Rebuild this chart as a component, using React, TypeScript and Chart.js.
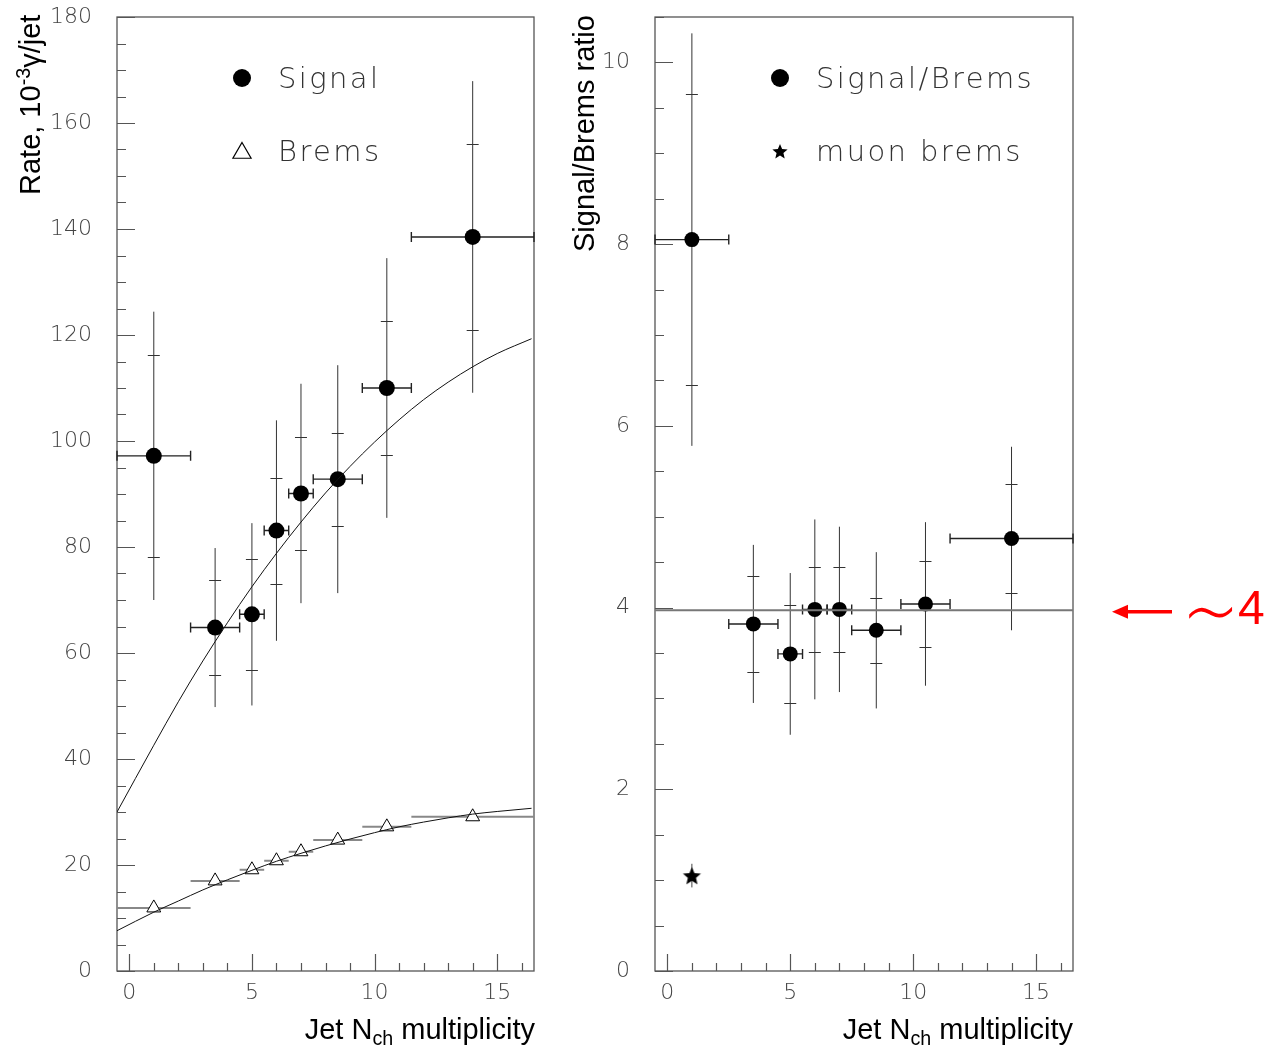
import React, { useEffect, useRef } from "react";
import { Chart, registerables } from "chart.js";

Chart.register(...registerables);

// ---------------- data ----------------
const binCenters = [1, 3.5, 5, 6, 7, 8.5, 10.5, 14];
const binLow = [-0.5, 2.5, 4.5, 5.5, 6.5, 7.5, 9.5, 11.5];
const binHigh = [2.5, 4.5, 5.5, 6.5, 7.5, 9.5, 11.5, 16.5];

const signalRate = [97.2, 64.8, 67.3, 83.1, 90.1, 92.8, 110.0, 138.5];
const signalStatErr = [19.0, 9.0, 10.5, 10.0, 10.7, 8.8, 12.7, 17.5];
const signalTotErr = [27.2, 15.0, 17.2, 20.8, 20.7, 21.5, 24.5, 29.4];

const bremsRate = [11.9, 17.0, 19.1, 20.8, 22.5, 24.7, 27.2, 29.1];

const fitX = [-0.5, 1, 2, 3, 4, 5, 6, 7, 8, 9, 10, 11, 12, 13, 14, 15, 16.4];
const signalFit = [30.0, 42.6, 50.8, 58.5, 65.7, 72.5, 78.8, 84.7, 90.2, 95.2, 99.8, 104.0, 107.8, 111.1, 114.0, 116.5, 119.3];
const bremsFit = [7.6, 11.1, 13.2, 15.3, 17.2, 19.0, 20.7, 22.2, 23.6, 24.9, 26.1, 27.2, 28.1, 28.9, 29.6, 30.1, 30.7];

const ratioValue = [8.05, 3.82, 3.49, 3.98, 3.98, 3.75, 4.04, 4.76];
const ratioStatErr = [1.6, 0.53, 0.54, 0.47, 0.47, 0.36, 0.47, 0.6];
const ratioTotErr = [2.27, 0.87, 0.89, 0.99, 0.91, 0.86, 0.9, 1.01];

const muonBremsX = [1];
const muonBremsRatio = [1.05];
const muonBremsErr = [0.13];

const ratioLevelX = [-0.5, 16.5];
const ratioLevel = [3.97, 3.97];

const xTickLabels = [0, 5, 10, 15];
const rateTickLabels = [0, 20, 40, 60, 80, 100, 120, 140, 160, 180];
const ratioTickLabels = [0, 2, 4, 6, 8, 10];

// ---------------- helpers ----------------
const TICK_FONT = { family: "'DejaVu Sans', sans-serif", size: 22, weight: "200" as any };
const TITLE_FONT = "'Liberation Sans', Arial, sans-serif";
const LEGEND_FONT = "'DejaVu Sans', sans-serif";

function makeStar(outer: number, inner: number): HTMLCanvasElement {
  const size = Math.ceil(outer * 2 + 2);
  const c = document.createElement("canvas");
  c.width = size;
  c.height = size;
  const g = c.getContext("2d")!;
  g.beginPath();
  for (let i = 0; i < 10; i++) {
    const r = i % 2 === 0 ? outer : inner;
    const ang = -Math.PI / 2 + (i * Math.PI) / 5;
    const px = size / 2 + r * Math.cos(ang);
    const py = size / 2 + 1 + r * Math.sin(ang);
    if (i === 0) g.moveTo(px, py);
    else g.lineTo(px, py);
  }
  g.closePath();
  g.fillStyle = "#000";
  g.fill();
  return c;
}

const frameTicksPlugin = {
  id: "frameTicks",
  beforeDatasetsDraw(chart: any, _a: any, opts: any) {
    const { ctx, chartArea: a, scales } = chart;
    const xs = scales.x;
    const ys = scales.y;
    ctx.save();
    ctx.strokeStyle = "#555";
    ctx.lineWidth = 1.3;
    ctx.strokeRect(a.left, a.top, a.right - a.left, a.bottom - a.top);
    ctx.lineWidth = 1.2;
    ctx.beginPath();
    const k0 = Math.ceil(xs.min / opts.xMinor - 1e-9);
    const k1 = Math.floor(xs.max / opts.xMinor + 1e-9);
    for (let k = k0; k <= k1; k++) {
      const v = k * opts.xMinor;
      const major = Math.abs(v / opts.xMajor - Math.round(v / opts.xMajor)) < 1e-6;
      const px = Math.round(xs.getPixelForValue(v)) + 0.5;
      ctx.moveTo(px, a.bottom);
      ctx.lineTo(px, a.bottom - (major ? 17 : 8));
    }
    const j0 = Math.ceil(ys.min / opts.yMinor - 1e-9);
    const j1 = Math.floor(ys.max / opts.yMinor + 1e-9);
    for (let k = j0; k <= j1; k++) {
      const v = k * opts.yMinor;
      const major = Math.abs(v / opts.yMajor - Math.round(v / opts.yMajor)) < 1e-6;
      const py = Math.round(ys.getPixelForValue(v)) + 0.5;
      ctx.moveTo(a.left, py);
      ctx.lineTo(a.left + (major ? 18 : 9), py);
    }
    ctx.stroke();
    ctx.restore();
  },
};

const errorBarsPlugin = {
  id: "errorBars",
  beforeDatasetsDraw(chart: any, _a: any, opts: any) {
    const { ctx, scales } = chart;
    const xs = scales.x;
    const ys = scales.y;
    ctx.save();
    for (const s of opts.sets || []) {
      for (let i = 0; i < s.x.length; i++) {
        const px = xs.getPixelForValue(s.x[i]);
        const py = ys.getPixelForValue(s.y[i]);
        if (s.tot) {
          ctx.strokeStyle = s.vColor || "#333";
          ctx.lineWidth = 1;
          ctx.beginPath();
          ctx.moveTo(px, ys.getPixelForValue(s.y[i] + s.tot[i]));
          ctx.lineTo(px, ys.getPixelForValue(s.y[i] - s.tot[i]));
          ctx.stroke();
        }
        if (s.stat) {
          ctx.strokeStyle = s.vColor || "#333";
          ctx.lineWidth = 1;
          ctx.beginPath();
          for (const sign of [1, -1]) {
            const yy = Math.round(ys.getPixelForValue(s.y[i] + sign * s.stat[i])) + 0.5;
            ctx.moveTo(px - 6, yy);
            ctx.lineTo(px + 6, yy);
          }
          ctx.stroke();
        }
        if (s.xLow) {
          const x0 = xs.getPixelForValue(s.xLow[i]);
          const x1 = xs.getPixelForValue(s.xHigh[i]);
          ctx.strokeStyle = s.hColor || "#222";
          ctx.lineWidth = s.hWidth || 1.4;
          ctx.beginPath();
          ctx.moveTo(x0, py);
          ctx.lineTo(x1, py);
          if (s.caps) {
            ctx.moveTo(x0, py - 5);
            ctx.lineTo(x0, py + 5);
            ctx.moveTo(x1, py - 5);
            ctx.lineTo(x1, py + 5);
          }
          ctx.stroke();
        }
      }
    }
    ctx.restore();
  },
};

const legendMarksPlugin = {
  id: "legendMarks",
  afterDraw(chart: any, _a: any, opts: any) {
    const { ctx, chartArea: a } = chart;
    ctx.save();
    const cx = a.left + 125;
    ctx.fillStyle = "#000";
    ctx.beginPath();
    ctx.arc(cx, a.top + 61, 9, 0, Math.PI * 2);
    ctx.fill();
    const y2 = a.top + 134;
    if (opts.second === "triangle") {
      const r = 10.5;
      ctx.strokeStyle = "#000";
      ctx.lineWidth = 1.2;
      ctx.fillStyle = "#fff";
      ctx.beginPath();
      for (let i = 0; i < 3; i++) {
        const ang = -Math.PI / 2 + (i * 2 * Math.PI) / 3;
        const px = cx + r * Math.cos(ang);
        const py = y2 + 2 + r * Math.sin(ang);
        if (i === 0) ctx.moveTo(px, py);
        else ctx.lineTo(px, py);
      }
      ctx.closePath();
      ctx.fill();
      ctx.stroke();
    } else if (opts.second === "star" && opts.starImg) {
      const img = opts.starImg;
      ctx.drawImage(img, cx - img.width / 2, y2 - img.height / 2);
    }
    ctx.restore();
  },
};

const arrowPlugin = {
  id: "redArrow",
  afterDraw(chart: any, _a: any, opts: any) {
    if (!opts.enabled) return;
    const { ctx, chartArea: a, scales } = chart;
    const y = scales.y.getPixelForValue(opts.value) + 1.5;
    const tip = a.right + 39;
    const tail = a.right + 99;
    ctx.save();
    ctx.strokeStyle = "#ff0000";
    ctx.fillStyle = "#ff0000";
    ctx.lineWidth = 3.5;
    ctx.beginPath();
    ctx.moveTo(tip + 12, y);
    ctx.lineTo(tail, y);
    ctx.stroke();
    ctx.beginPath();
    ctx.moveTo(tip, y);
    ctx.lineTo(tip + 16, y - 7);
    ctx.lineTo(tip + 16, y + 7);
    ctx.closePath();
    ctx.fill();
    ctx.restore();
  },
};

function baseScales(yMax: number, yLabels: number[], yAxisWidth: number) {
  return {
    x: {
      type: "linear" as const,
      min: -0.5,
      max: 16.5,
      grid: { display: false, drawTicks: false },
      border: { display: false },
      afterBuildTicks: (s: any) => {
        s.ticks = xTickLabels.map((v) => ({ value: v }));
      },
      afterFit: (s: any) => {
        s.height = 78;
        s.paddingLeft = 0;
        s.paddingRight = 0;
      },
      ticks: { font: TICK_FONT, color: "#444", padding: 9, maxRotation: 0, autoSkip: false },
    },
    y: {
      type: "linear" as const,
      min: 0,
      max: yMax,
      grid: { display: false, drawTicks: false },
      border: { display: false },
      afterBuildTicks: (s: any) => {
        s.ticks = yLabels.map((v) => ({ value: v }));
      },
      afterFit: (s: any) => {
        s.width = yAxisWidth;
        s.paddingTop = 0;
        s.paddingBottom = 0;
      },
      ticks: { font: TICK_FONT, color: "#444", padding: 25, autoSkip: false },
    },
  };
}

function RateChart() {
  const ref = useRef<HTMLCanvasElement>(null);
  useEffect(() => {
    const chart = new Chart(ref.current!, {
      type: "scatter",
      data: {
        datasets: [
          {
            label: "Signal fit",
            data: fitX.map((x, i) => ({ x, y: signalFit[i] })),
            showLine: true,
            borderColor: "#111",
            borderWidth: 1,
            pointRadius: 0,
            cubicInterpolationMode: "monotone",
          } as any,
          {
            label: "Brems fit",
            data: fitX.map((x, i) => ({ x, y: bremsFit[i] })),
            showLine: true,
            borderColor: "#111",
            borderWidth: 1,
            pointRadius: 0,
            cubicInterpolationMode: "monotone",
          } as any,
          {
            label: "Brems",
            data: binCenters.map((x, i) => ({ x, y: bremsRate[i] })),
            pointStyle: "triangle",
            pointRadius: 8,
            backgroundColor: "#fff",
            borderColor: "#000",
            borderWidth: 1,
          },
          {
            label: "Signal",
            data: binCenters.map((x, i) => ({ x, y: signalRate[i] })),
            pointStyle: "circle",
            pointRadius: 8,
            backgroundColor: "#000",
            borderColor: "#000",
            borderWidth: 0,
          },
        ],
      },
      options: {
        responsive: false,
        devicePixelRatio: 1,
        animation: false,
        layout: { padding: { left: 0, top: 17, right: 26, bottom: 0 } },
        scales: baseScales(180, rateTickLabels, 117) as any,
        plugins: {
          legend: { display: false },
          tooltip: { enabled: false },
          frameTicks: { xMinor: 1, xMajor: 5, yMinor: 5, yMajor: 20 },
          errorBars: {
            sets: [
              { x: binCenters, y: bremsRate, xLow: binLow, xHigh: binHigh, hColor: "#888", hWidth: 2, caps: false },
              {
                x: binCenters,
                y: signalRate,
                xLow: binLow,
                xHigh: binHigh,
                stat: signalStatErr,
                tot: signalTotErr,
                caps: true,
              },
            ],
          },
          legendMarks: { second: "triangle" },
          redArrow: { enabled: false },
        } as any,
      },
      plugins: [frameTicksPlugin, errorBarsPlugin, legendMarksPlugin, arrowPlugin],
    });
    return () => chart.destroy();
  }, []);
  return (
    <canvas
      ref={ref}
      width={560}
      height={1049}
      style={{ position: "absolute", left: 0, top: 0, width: 560, height: 1049 }}
    />
  );
}

function RatioChart() {
  const ref = useRef<HTMLCanvasElement>(null);
  useEffect(() => {
    const star = makeStar(9.5, 4.3);
    const legendStar = makeStar(8, 3.6);
    const chart = new Chart(ref.current!, {
      type: "scatter",
      data: {
        datasets: [
          {
            label: "Level",
            data: ratioLevelX.map((x, i) => ({ x, y: ratioLevel[i] })),
            showLine: true,
            borderColor: "#777",
            borderWidth: 2,
            pointRadius: 0,
          } as any,
          {
            label: "Signal/Brems",
            data: binCenters.map((x, i) => ({ x, y: ratioValue[i] })),
            pointStyle: "circle",
            pointRadius: 7.5,
            backgroundColor: "#000",
            borderColor: "#000",
            borderWidth: 0,
          },
          {
            label: "muon brems",
            data: muonBremsX.map((x, i) => ({ x, y: muonBremsRatio[i] })),
            pointStyle: star,
            pointRadius: 10,
          },
        ],
      },
      options: {
        responsive: false,
        devicePixelRatio: 1,
        animation: false,
        layout: { padding: { left: 0, top: 17, right: 195, bottom: 0 } },
        scales: baseScales(10.5, ratioTickLabels, 95) as any,
        plugins: {
          legend: { display: false },
          tooltip: { enabled: false },
          frameTicks: { xMinor: 1, xMajor: 5, yMinor: 0.5, yMajor: 2 },
          errorBars: {
            sets: [
              {
                x: binCenters,
                y: ratioValue,
                xLow: binLow,
                xHigh: binHigh,
                stat: ratioStatErr,
                tot: ratioTotErr,
                caps: true,
              },
              { x: muonBremsX, y: muonBremsRatio, tot: muonBremsErr, vColor: "#444" },
            ],
          },
          legendMarks: { second: "star", starImg: legendStar },
          redArrow: { enabled: true, value: ratioLevel[0] },
        } as any,
      },
      plugins: [frameTicksPlugin, errorBarsPlugin, legendMarksPlugin, arrowPlugin],
    });
    return () => chart.destroy();
  }, []);
  return (
    <canvas
      ref={ref}
      width={708}
      height={1049}
      style={{ position: "absolute", left: 560, top: 0, width: 708, height: 1049 }}
    />
  );
}

const titleStyle: React.CSSProperties = {
  position: "absolute",
  fontFamily: TITLE_FONT,
  fontSize: 29,
  lineHeight: "29px",
  color: "#000",
  whiteSpace: "nowrap",
};

const legendStyle: React.CSSProperties = {
  position: "absolute",
  fontFamily: LEGEND_FONT,
  fontWeight: 200,
  fontSize: 29,
  lineHeight: "29px",
  letterSpacing: "2.4px",
  color: "#333",
  whiteSpace: "nowrap",
};

const supStyle: React.CSSProperties = { fontSize: "0.68em", verticalAlign: "0.5em", lineHeight: 0 };
const subStyle: React.CSSProperties = { fontSize: "0.68em", verticalAlign: "-0.3em", lineHeight: 0 };

export default function App() {
  return (
    <div
      style={{
        position: "absolute",
        left: 0,
        top: 0,
        width: 1268,
        height: 1049,
        background: "#fff",
        overflow: "hidden",
      }}
    >
      <RateChart />
      <RatioChart />

      <div style={{ ...titleStyle, left: 16, top: 195, transform: "rotate(-90deg)", transformOrigin: "left top" }}>
        Rate, 10<span style={supStyle}>-3</span>γ/jet
      </div>
      <div style={{ ...titleStyle, left: 570, top: 252, transform: "rotate(-90deg)", transformOrigin: "left top" }}>
        Signal/Brems ratio
      </div>

      <div style={{ ...titleStyle, left: 135, width: 400, top: 1015, textAlign: "right" }}>
        Jet N<span style={subStyle}>ch</span> multiplicity
      </div>
      <div style={{ ...titleStyle, left: 673, width: 400, top: 1015, textAlign: "right" }}>
        Jet N<span style={subStyle}>ch</span> multiplicity
      </div>

      <div style={{ ...legendStyle, left: 278, top: 64 }}>Signal</div>
      <div style={{ ...legendStyle, left: 278, top: 137 }}>Brems</div>
      <div style={{ ...legendStyle, left: 816, top: 64 }}>Signal/Brems</div>
      <div style={{ ...legendStyle, left: 816, top: 137 }}>muon brems</div>

      <div
        style={{
          position: "absolute",
          left: 1182,
          top: 577,
          fontFamily: "'DejaVu Sans', sans-serif",
          fontWeight: 200,
          fontSize: 90,
          lineHeight: "72px",
          color: "#ff0000",
          whiteSpace: "nowrap",
        }}
      >
        ∼
      </div>
      <div
        style={{
          position: "absolute",
          left: 1238,
          top: 584,
          fontFamily: TITLE_FONT,
          fontSize: 48,
          lineHeight: "48px",
          color: "#ff0000",
          whiteSpace: "nowrap",
        }}
      >
        4
      </div>
    </div>
  );
}
